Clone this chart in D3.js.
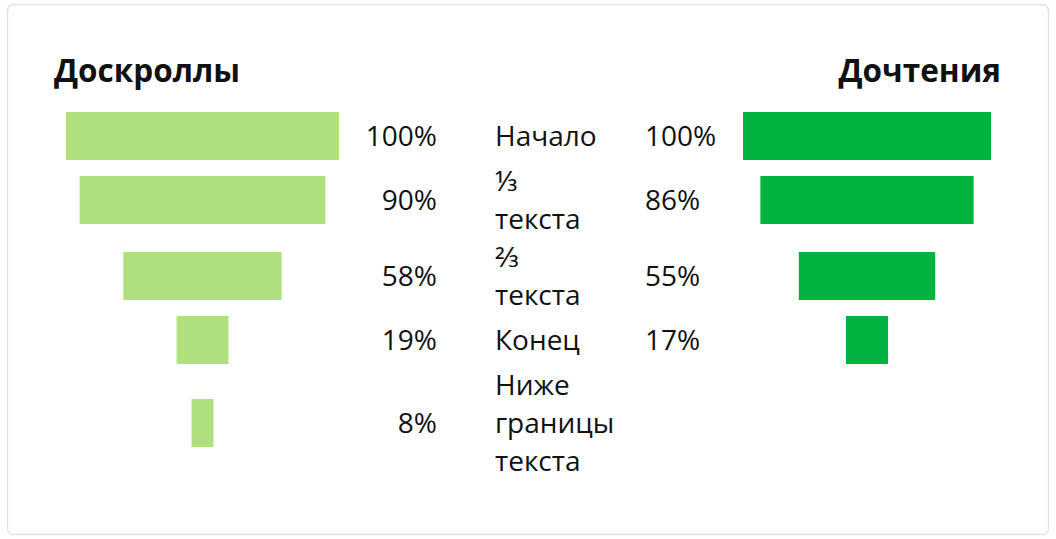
<!DOCTYPE html>
<html>
<head>
<meta charset="utf-8">
<script src="https://cdn.jsdelivr.net/npm/d3@7"></script>
<style>
  body { margin: 0; background: #fff; font-family: "Open Sans", "Noto Sans", sans-serif; }
</style>
</head>
<body>
<div id="chart"></div>
<script>
// Data
const stages = [['Начало'], ['⅓', 'текста'], ['⅔', 'текста'], ['Конец'], ['Ниже', 'границы', 'текста']];
const scrollValues = [100, 90, 58, 19, 8];
const readValues = [100, 86, 55, 17, null];
const titles = ['Доскроллы', 'Дочтения'];

const svg = d3.select('#chart')
    .append('svg')
    .attr('width', 1056)
    .attr('height', 539);

// card
svg.append('rect')
    .attr('x', 7.5).attr('y', 4.5)
    .attr('width', 1041).attr('height', 530)
    .attr('rx', 6)
    .attr('fill', '#fff')
    .attr('stroke', '#e3e3e3')
    .attr('stroke-width', 1.5);

const lineH = 38;
const barH = 48;
const startY = 110;

// row heights depend on how many lines the stage label takes
const rowH = stages.map(s => Math.max(52, s.length * lineH));
const rowTop = rowH.map((h, i) => startY + d3.sum(rowH.slice(0, i)));
const yCenter = d3.scaleOrdinal()
    .domain(d3.range(stages.length))
    .range(rowTop.map((t, i) => t + rowH[i] / 2));

const xLeft = d3.scaleLinear().domain([0, 100]).range([0, 273]);
const xRight = d3.scaleLinear().domain([0, 100]).range([0, 248]);
const leftMid = 202.5, rightMid = 867;

svg.append('text')
    .attr('x', 54).attr('y', 82)
    .style('font-size', '31.5px').style('font-weight', 700)
    .attr('fill', '#111')
    .text(titles[0]);

svg.append('text')
    .attr('x', 1001).attr('y', 82)
    .attr('text-anchor', 'end')
    .style('font-size', '31.5px').style('font-weight', 700)
    .attr('fill', '#111')
    .text(titles[1]);

const rows = stages.map((s, i) => ({ i: i, label: s, scroll: scrollValues[i], read: readValues[i] }));

svg.selectAll('.bar-left')
    .data(rows)
    .enter().append('rect')
    .attr('class', 'bar-left')
    .attr('x', d => leftMid - xLeft(d.scroll) / 2)
    .attr('y', d => yCenter(d.i) - barH / 2)
    .attr('width', d => xLeft(d.scroll))
    .attr('height', barH)
    .attr('fill', '#b0e07e');

svg.selectAll('.bar-right')
    .data(rows.filter(d => d.read != null))
    .enter().append('rect')
    .attr('class', 'bar-right')
    .attr('x', d => rightMid - xRight(d.read) / 2)
    .attr('y', d => yCenter(d.i) - barH / 2)
    .attr('width', d => xRight(d.read))
    .attr('height', barH)
    .attr('fill', '#00b341');

svg.selectAll('.pct-left')
    .data(rows)
    .enter().append('text')
    .attr('class', 'pct-left')
    .attr('x', 437)
    .attr('y', d => yCenter(d.i))
    .attr('dy', '0.36em')
    .attr('text-anchor', 'end')
    .style('font-size', '28px')
    .attr('fill', '#111')
    .text(d => d.scroll + '%');

svg.selectAll('.pct-right')
    .data(rows.filter(d => d.read != null))
    .enter().append('text')
    .attr('class', 'pct-right')
    .attr('x', 645)
    .attr('y', d => yCenter(d.i))
    .attr('dy', '0.36em')
    .style('font-size', '28px')
    .attr('fill', '#111')
    .text(d => d.read + '%');

const labels = svg.selectAll('.stage')
    .data(rows)
    .enter().append('text')
    .attr('class', 'stage')
    .style('font-size', '28px')
    .attr('fill', '#111');

labels.selectAll('tspan')
    .data(d => d.label.map((t, k) => ({ t: t, k: k, n: d.label.length, i: d.i })))
    .enter().append('tspan')
    .attr('x', 495)
    .attr('y', d => yCenter(d.i) + (d.k - (d.n - 1) / 2) * lineH)
    .attr('dy', '0.36em')
    .text(d => d.t);
</script>
</body>
</html>
